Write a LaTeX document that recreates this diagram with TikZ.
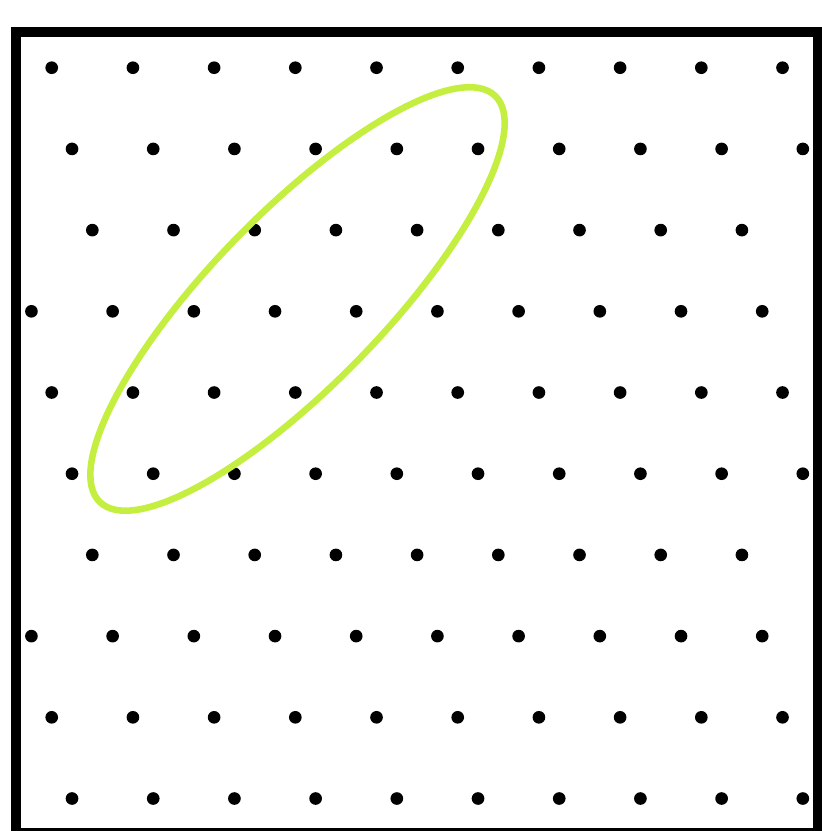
\documentclass[tikz,border=0pt]{standalone}
\usepackage{tikz}
\definecolor{loopgreen}{HTML}{C5EF40}
\tikzset{
  lattice dot/.style={fill=black},      % lattice points
  frame line/.style={draw=black, line width=3.5pt},
  loop line/.style={draw=loopgreen, line width=2.3pt}
}

\begin{document}
\begin{tikzpicture}
    % Page size and clipping
    \useasboundingbox (0,0) rectangle (10.123,10.234);
    \clip (0,0) rectangle (10.123,10.234);

    % Frame
    \draw[frame line] (0.197,-0.025) rectangle (10.068,9.840);

    % Lattice: each row shifted by a quarter step
    \foreach \r in {0,...,9} {
      \foreach \k in {-1,...,10} {
        \pgfmathsetmacro\u{0.637+0.25*mod(\r,4)+\k}
        \ifdim\u pt>0.3pt \ifdim\u pt<9.95pt
          \fill[lattice dot] (\u,9.4-\r) circle[radius=0.078];
        \fi\fi
      }
    }

    % Tilted loop round the points
    \coordinate (loopcenter) at (3.664,6.552);
    \draw[loop line, rotate around={45.75:(loopcenter)}] (loopcenter) ellipse[x radius=3.49, y radius=1.06];
\end{tikzpicture}
\end{document}
